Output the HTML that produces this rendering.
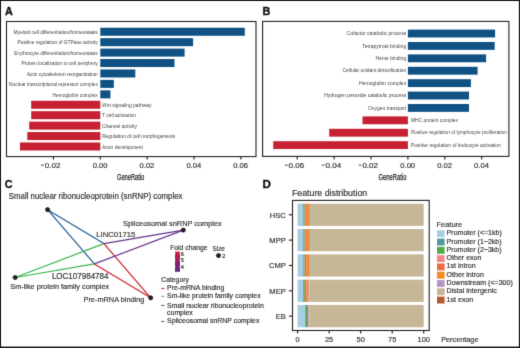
<!DOCTYPE html>
<html><head><meta charset="utf-8"><style>
html,body{margin:0;padding:0;background:#fff;}
svg{display:block;font-family:"Liberation Sans", sans-serif;will-change:transform;}

</style></head><body>
<svg width="520" height="348" viewBox="0 0 520 348" fill="#333">
<defs><filter id="bl" x="0" y="0" width="520" height="348" filterUnits="userSpaceOnUse" color-interpolation-filters="sRGB"><feConvolveMatrix order="3" kernelMatrix="0.0114 0.084 0.0114 0.084 0.618 0.084 0.0114 0.084 0.0114" divisor="1" edgeMode="duplicate"/></filter></defs>
<g filter="url(#bl)">
<rect x="0" y="0" width="520" height="348" fill="#fff"/>
<text x="5.0" y="14.8" font-size="10.8" fill="#111" font-weight="bold" stroke="#111" stroke-width="0.35">A</text>
<rect x="6.5" y="21.5" width="249.5" height="135.1" fill="none" stroke="#222" stroke-width="1.1"/>
<rect x="100.30" y="27.75" width="144.50" height="8.00" fill="#0f5283"/>
<text x="97.8" y="33.95" font-size="5.044" text-anchor="end" fill="#444" textLength="84.29" lengthAdjust="spacingAndGlyphs">Myeloid cell differentiation/homeostasis</text>
<rect x="100.30" y="38.18" width="92.80" height="8.00" fill="#0f5283"/>
<text x="97.8" y="44.38" font-size="5.044" text-anchor="end" fill="#444" textLength="80.33" lengthAdjust="spacingAndGlyphs">Positive regulation of GTPase activity</text>
<rect x="100.30" y="48.61" width="84.30" height="8.00" fill="#0f5283"/>
<text x="97.8" y="54.81" font-size="5.044" text-anchor="end" fill="#444" textLength="83.48" lengthAdjust="spacingAndGlyphs">Erythrocyte differentiation/homeostasis</text>
<rect x="100.30" y="59.04" width="74.20" height="8.00" fill="#0f5283"/>
<text x="97.8" y="65.24" font-size="5.044" text-anchor="end" fill="#444" textLength="76.29" lengthAdjust="spacingAndGlyphs">Protein localization to cell periphery</text>
<rect x="100.30" y="69.47" width="35.00" height="8.00" fill="#0f5283"/>
<text x="97.8" y="75.67" font-size="5.044" text-anchor="end" fill="#444" textLength="71.17" lengthAdjust="spacingAndGlyphs">Actin cytoskeleton reorganization</text>
<rect x="100.30" y="79.90" width="13.50" height="8.00" fill="#0f5283"/>
<text x="97.8" y="86.10000000000001" font-size="5.044" text-anchor="end" fill="#444" textLength="88.7" lengthAdjust="spacingAndGlyphs">Nuclear transcriptional repressor complex</text>
<rect x="100.30" y="90.33" width="10.10" height="8.00" fill="#0f5283"/>
<text x="97.8" y="96.53" font-size="5.044" text-anchor="end" fill="#444" textLength="45.29" lengthAdjust="spacingAndGlyphs">Hemoglobin complex</text>
<rect x="31.20" y="100.76" width="69.10" height="8.00" fill="#c72032"/>
<text x="102.0" y="106.96" font-size="5.148" fill="#444" textLength="49.53" lengthAdjust="spacingAndGlyphs">Wnt signaling pathway</text>
<rect x="31.20" y="111.19" width="69.10" height="8.00" fill="#c72032"/>
<text x="102.0" y="117.39" font-size="5.148" fill="#444" textLength="34.02" lengthAdjust="spacingAndGlyphs">T cell activation</text>
<rect x="29.20" y="121.62" width="71.10" height="8.00" fill="#c72032"/>
<text x="102.0" y="127.82000000000001" font-size="5.148" fill="#444" textLength="34.94" lengthAdjust="spacingAndGlyphs">Channel activity</text>
<rect x="27.30" y="132.05" width="73.00" height="8.00" fill="#c72032"/>
<text x="102.0" y="138.25" font-size="5.148" fill="#444" textLength="73.19" lengthAdjust="spacingAndGlyphs">Regulation of cell morphogenesis</text>
<rect x="20.00" y="142.48" width="80.30" height="8.00" fill="#c72032"/>
<text x="102.0" y="148.67999999999998" font-size="5.148" fill="#444" textLength="41.0" lengthAdjust="spacingAndGlyphs">Axon development</text>
<line x1="53.449999999999996" y1="156.6" x2="53.449999999999996" y2="159.6" stroke="#222" stroke-width="1.15"/>
<text x="60.45" y="167.9" font-size="7.904" text-anchor="end" textLength="15.6" lengthAdjust="spacingAndGlyphs" stroke="#333" stroke-width="0.18">0.02</text>
<rect x="41.00" y="164.70" width="3.00" height="0.85" fill="#333"/>
<line x1="100.3" y1="156.6" x2="100.3" y2="159.6" stroke="#222" stroke-width="1.15"/>
<text x="100.1" y="167.9" font-size="7.904" text-anchor="middle" textLength="14.79" lengthAdjust="spacingAndGlyphs" stroke="#333" stroke-width="0.18">0.00</text>
<line x1="147.15" y1="156.6" x2="147.15" y2="159.6" stroke="#222" stroke-width="1.15"/>
<text x="146.95" y="167.9" font-size="7.904" text-anchor="middle" textLength="14.79" lengthAdjust="spacingAndGlyphs" stroke="#333" stroke-width="0.18">0.02</text>
<line x1="194.0" y1="156.6" x2="194.0" y2="159.6" stroke="#222" stroke-width="1.15"/>
<text x="193.8" y="167.9" font-size="7.904" text-anchor="middle" textLength="14.79" lengthAdjust="spacingAndGlyphs" stroke="#333" stroke-width="0.18">0.04</text>
<line x1="240.85000000000002" y1="156.6" x2="240.85000000000002" y2="159.6" stroke="#222" stroke-width="1.15"/>
<text x="240.65" y="167.9" font-size="7.904" text-anchor="middle" textLength="14.79" lengthAdjust="spacingAndGlyphs" stroke="#333" stroke-width="0.18">0.06</text>
<text x="130.6" y="179.6" font-size="9.152" text-anchor="middle" fill="#222" textLength="27.2" lengthAdjust="spacingAndGlyphs" stroke="#222" stroke-width="0.25">GeneRatio</text>
<text x="262.5" y="14.8" font-size="10.8" fill="#111" font-weight="bold" stroke="#111" stroke-width="0.35">B</text>
<rect x="262.6" y="21.4" width="246.29999999999995" height="135.0" fill="none" stroke="#222" stroke-width="1.1"/>
<rect x="407.90" y="29.60" width="87.20" height="7.85" fill="#0f5283"/>
<text x="406.2" y="35.225" font-size="5.148" text-anchor="end" fill="#444" textLength="59.7" lengthAdjust="spacingAndGlyphs">Cofactor catabolic process</text>
<rect x="407.90" y="42.00" width="86.80" height="7.85" fill="#0f5283"/>
<text x="406.2" y="47.625" font-size="5.148" text-anchor="end" fill="#444" textLength="43.9" lengthAdjust="spacingAndGlyphs">Tetrapyrrole binding</text>
<rect x="407.90" y="54.40" width="78.20" height="7.85" fill="#0f5283"/>
<text x="406.2" y="60.025000000000006" font-size="5.148" text-anchor="end" fill="#444" textLength="30.6" lengthAdjust="spacingAndGlyphs">Heme binding</text>
<rect x="407.90" y="66.80" width="69.70" height="7.85" fill="#0f5283"/>
<text x="406.2" y="72.42500000000001" font-size="5.148" text-anchor="end" fill="#444" textLength="63.7" lengthAdjust="spacingAndGlyphs">Cellular oxidant detoxification</text>
<rect x="407.90" y="79.20" width="63.00" height="7.85" fill="#0f5283"/>
<text x="406.2" y="84.825" font-size="5.148" text-anchor="end" fill="#444" textLength="47.1" lengthAdjust="spacingAndGlyphs">Hemoglobin complex</text>
<rect x="407.90" y="91.60" width="61.10" height="7.85" fill="#0f5283"/>
<text x="406.2" y="97.225" font-size="5.148" text-anchor="end" fill="#444" textLength="82.0" lengthAdjust="spacingAndGlyphs">Hydrogen peroxide catabolic process</text>
<rect x="407.90" y="104.00" width="61.10" height="7.85" fill="#0f5283"/>
<text x="406.2" y="109.625" font-size="5.148" text-anchor="end" fill="#444" textLength="38.1" lengthAdjust="spacingAndGlyphs">Oxygen transport</text>
<rect x="362.50" y="116.40" width="45.40" height="7.85" fill="#c72032"/>
<text x="410.9" y="121.925" font-size="5.096" fill="#444" textLength="47.11" lengthAdjust="spacingAndGlyphs">MHC protein complex</text>
<rect x="329.20" y="128.80" width="78.70" height="7.85" fill="#c72032"/>
<text x="410.9" y="134.32500000000002" font-size="5.096" fill="#444" textLength="95.9" lengthAdjust="spacingAndGlyphs">Positive regulation of lymphocyte proliferation</text>
<rect x="273.20" y="141.20" width="134.70" height="7.85" fill="#c72032"/>
<text x="410.9" y="146.72500000000002" font-size="5.096" fill="#444" textLength="89.9" lengthAdjust="spacingAndGlyphs">Positive regulation of leukocyte activation</text>
<line x1="297.2" y1="156.4" x2="297.2" y2="159.4" stroke="#222" stroke-width="1.15"/>
<text x="304.2" y="167.9" font-size="7.904" text-anchor="end" textLength="15.6" lengthAdjust="spacingAndGlyphs" stroke="#333" stroke-width="0.18">0.06</text>
<rect x="284.75" y="164.70" width="3.00" height="0.85" fill="#333"/>
<line x1="334.09999999999997" y1="156.4" x2="334.09999999999997" y2="159.4" stroke="#222" stroke-width="1.15"/>
<text x="341.1" y="167.9" font-size="7.904" text-anchor="end" textLength="15.6" lengthAdjust="spacingAndGlyphs" stroke="#333" stroke-width="0.18">0.04</text>
<rect x="321.65" y="164.70" width="3.00" height="0.85" fill="#333"/>
<line x1="371.0" y1="156.4" x2="371.0" y2="159.4" stroke="#222" stroke-width="1.15"/>
<text x="378.0" y="167.9" font-size="7.904" text-anchor="end" textLength="15.6" lengthAdjust="spacingAndGlyphs" stroke="#333" stroke-width="0.18">0.02</text>
<rect x="358.55" y="164.70" width="3.00" height="0.85" fill="#333"/>
<line x1="407.9" y1="156.4" x2="407.9" y2="159.4" stroke="#222" stroke-width="1.15"/>
<text x="407.7" y="167.9" font-size="7.904" text-anchor="middle" textLength="14.79" lengthAdjust="spacingAndGlyphs" stroke="#333" stroke-width="0.18">0.00</text>
<line x1="444.79999999999995" y1="156.4" x2="444.79999999999995" y2="159.4" stroke="#222" stroke-width="1.15"/>
<text x="444.6" y="167.9" font-size="7.904" text-anchor="middle" textLength="14.79" lengthAdjust="spacingAndGlyphs" stroke="#333" stroke-width="0.18">0.02</text>
<line x1="481.7" y1="156.4" x2="481.7" y2="159.4" stroke="#222" stroke-width="1.15"/>
<text x="481.5" y="167.9" font-size="7.904" text-anchor="middle" textLength="14.79" lengthAdjust="spacingAndGlyphs" stroke="#333" stroke-width="0.18">0.04</text>
<text x="392.5" y="179.6" font-size="9.152" text-anchor="middle" fill="#222" textLength="27.8" lengthAdjust="spacingAndGlyphs" stroke="#222" stroke-width="0.25">GeneRatio</text>
<text x="4.8" y="188.2" font-size="10.8" fill="#111" font-weight="bold" stroke="#111" stroke-width="0.35">C</text>
<line x1="47.6" y1="209.7" x2="103.9" y2="243.6" stroke="#1d5c96" stroke-width="1.2"/>
<line x1="47.6" y1="209.7" x2="94.4" y2="263.9" stroke="#1d5c96" stroke-width="1.2"/>
<line x1="15.1" y1="277.5" x2="103.9" y2="243.6" stroke="#3cb44b" stroke-width="1.2"/>
<line x1="15.1" y1="277.5" x2="94.4" y2="263.9" stroke="#3cb44b" stroke-width="1.2"/>
<line x1="103.9" y1="243.6" x2="150.7" y2="297.85" stroke="#d0202f" stroke-width="1.2"/>
<line x1="94.4" y1="263.9" x2="150.7" y2="297.85" stroke="#d0202f" stroke-width="1.2"/>
<line x1="103.9" y1="243.6" x2="183.3" y2="230.1" stroke="#6a3591" stroke-width="1.2"/>
<line x1="94.4" y1="263.9" x2="183.3" y2="230.1" stroke="#6a3591" stroke-width="1.2"/>
<circle cx="47.6" cy="209.7" r="2.1" fill="#222" stroke="#000" stroke-width="0.6"/>
<circle cx="15.1" cy="277.5" r="2.1" fill="#222" stroke="#000" stroke-width="0.6"/>
<circle cx="183.3" cy="230.1" r="2.1" fill="#222" stroke="#000" stroke-width="0.6"/>
<circle cx="150.7" cy="297.85" r="2.1" fill="#222" stroke="#000" stroke-width="0.6"/>
<text x="8.8" y="199.2" font-size="8.164" textLength="173.7" lengthAdjust="spacingAndGlyphs" stroke="#333" stroke-width="0.18">Small nuclear ribonucleoprotein (snRNP) complex</text>
<text x="123.1" y="226.1" font-size="7.696" textLength="98.7" lengthAdjust="spacingAndGlyphs" stroke="#333" stroke-width="0.18">Spliceosomal snRNP complex</text>
<text x="96.2" y="236.5" font-size="8.008" textLength="39.2" lengthAdjust="spacingAndGlyphs" stroke="#333" stroke-width="0.18">LINC01715</text>
<text x="51.9" y="278.7" font-size="8.216" textLength="56.6" lengthAdjust="spacingAndGlyphs" stroke="#333" stroke-width="0.18">LOC107984784</text>
<text x="10.3" y="289.3" font-size="7.644" textLength="98.9" lengthAdjust="spacingAndGlyphs" stroke="#333" stroke-width="0.18">Sm-like protein family complex</text>
<text x="83.5" y="301.8" font-size="7.904" textLength="60.9" lengthAdjust="spacingAndGlyphs" stroke="#333" stroke-width="0.18">Pre-mRNA binding</text>
<text x="170.2" y="249.8" font-size="7.228" textLength="37.3" lengthAdjust="spacingAndGlyphs" stroke="#333" stroke-width="0.18">Fold change</text>
<text x="212.5" y="250.6" font-size="6.968" textLength="12.4" lengthAdjust="spacingAndGlyphs" stroke="#333" stroke-width="0.18">Size</text>
<defs><linearGradient id="fc" x1="0" y1="0" x2="0" y2="1"><stop offset="0" stop-color="#d41b3b"/><stop offset="0.5" stop-color="#901f62"/><stop offset="1" stop-color="#5b2d8e"/></linearGradient></defs>
<rect x="175" y="251.6" width="5" height="20.2" fill="url(#fc)"/>
<line x1="175" y1="253.6" x2="176" y2="253.6" stroke="#fff" stroke-width="0.5"/>
<line x1="179" y1="253.6" x2="180" y2="253.6" stroke="#fff" stroke-width="0.5"/>
<text x="180.8" y="255.54999999999998" font-size="5.72" fill="#2a2a2a" textLength="3.06" lengthAdjust="spacingAndGlyphs" stroke="#2a2a2a" stroke-width="0.2">6</text>
<line x1="175" y1="260.4" x2="176" y2="260.4" stroke="#fff" stroke-width="0.5"/>
<line x1="179" y1="260.4" x2="180" y2="260.4" stroke="#fff" stroke-width="0.5"/>
<text x="180.8" y="262.34999999999997" font-size="5.72" fill="#2a2a2a" textLength="3.06" lengthAdjust="spacingAndGlyphs" stroke="#2a2a2a" stroke-width="0.2">5</text>
<line x1="175" y1="267.2" x2="176" y2="267.2" stroke="#fff" stroke-width="0.5"/>
<line x1="179" y1="267.2" x2="180" y2="267.2" stroke="#fff" stroke-width="0.5"/>
<text x="180.8" y="269.15" font-size="5.72" fill="#2a2a2a" textLength="3.06" lengthAdjust="spacingAndGlyphs" stroke="#2a2a2a" stroke-width="0.2">4</text>
<circle cx="218.5" cy="255.6" r="2.1" fill="#222" stroke="#000" stroke-width="0.6"/>
<text x="222.3" y="257.6" font-size="5.824" fill="#2a2a2a" textLength="3.11" lengthAdjust="spacingAndGlyphs" stroke="#2a2a2a" stroke-width="0.2">2</text>
<text x="161.3" y="281.8" font-size="7.176" textLength="27.5" lengthAdjust="spacingAndGlyphs" stroke="#333" stroke-width="0.18">Category</text>
<line x1="161.3" y1="288.4" x2="164.4" y2="288.4" stroke="#d0202f" stroke-width="1"/>
<text x="167.1" y="289.6" font-size="7.176" textLength="57.14" lengthAdjust="spacingAndGlyphs" stroke="#333" stroke-width="0.18">Pre-mRNA binding</text>
<line x1="161.3" y1="296.3" x2="164.4" y2="296.3" stroke="#3cb44b" stroke-width="1"/>
<text x="167.1" y="297.9" font-size="7.176" textLength="93.56" lengthAdjust="spacingAndGlyphs" stroke="#333" stroke-width="0.18">Sm-like protein family complex</text>
<line x1="161.3" y1="305.4" x2="164.4" y2="305.4" stroke="#1d5c96" stroke-width="1"/>
<text x="167.1" y="307.7" font-size="7.176" textLength="96.65" lengthAdjust="spacingAndGlyphs" stroke="#333" stroke-width="0.18">Small nuclear ribonucleoprotein</text>
<line x1="161.3" y1="321.4" x2="164.4" y2="321.4" stroke="#6a3591" stroke-width="1"/>
<text x="167.1" y="323.0" font-size="7.176" textLength="92.29" lengthAdjust="spacingAndGlyphs" stroke="#333" stroke-width="0.18">Spliceosomal snRNP complex</text>
<text x="167.1" y="315.3" font-size="7.176" textLength="25.69" lengthAdjust="spacingAndGlyphs" stroke="#333" stroke-width="0.18">complex</text>
<text x="262.5" y="187.9" font-size="10.8" fill="#111" textLength="8.4" lengthAdjust="spacingAndGlyphs" font-weight="bold" stroke="#111" stroke-width="0.35">D</text>
<text x="291.9" y="195.5" font-size="8.528" textLength="75.3" lengthAdjust="spacingAndGlyphs" stroke="#333" stroke-width="0.18">Feature distribution</text>
<rect x="297.60" y="203.70" width="5.20" height="22.20" fill="#a6cee3"/>
<rect x="302.80" y="203.70" width="0.70" height="22.20" fill="#4e9ca0"/>
<rect x="303.50" y="203.70" width="1.20" height="22.20" fill="#50ac4a"/>
<rect x="304.70" y="203.70" width="0.40" height="22.20" fill="#f08888"/>
<rect x="305.10" y="203.70" width="1.60" height="22.20" fill="#ec6a48"/>
<rect x="306.70" y="203.70" width="2.40" height="22.20" fill="#f28924"/>
<rect x="309.10" y="203.70" width="0.90" height="22.20" fill="#b197c6"/>
<rect x="310.00" y="203.70" width="113.70" height="22.20" fill="#c6b797"/>
<rect x="297.60" y="229.03" width="5.30" height="22.20" fill="#a6cee3"/>
<rect x="302.90" y="229.03" width="0.80" height="22.20" fill="#4e9ca0"/>
<rect x="303.70" y="229.03" width="1.00" height="22.20" fill="#50ac4a"/>
<rect x="304.70" y="229.03" width="0.40" height="22.20" fill="#f08888"/>
<rect x="305.10" y="229.03" width="1.60" height="22.20" fill="#ec6a48"/>
<rect x="306.70" y="229.03" width="2.40" height="22.20" fill="#f28924"/>
<rect x="309.10" y="229.03" width="0.90" height="22.20" fill="#b197c6"/>
<rect x="310.00" y="229.03" width="113.70" height="22.20" fill="#c6b797"/>
<rect x="297.60" y="254.36" width="5.30" height="22.20" fill="#a6cee3"/>
<rect x="302.90" y="254.36" width="0.60" height="22.20" fill="#4e9ca0"/>
<rect x="303.50" y="254.36" width="1.20" height="22.20" fill="#50ac4a"/>
<rect x="304.70" y="254.36" width="0.30" height="22.20" fill="#f08888"/>
<rect x="305.00" y="254.36" width="1.60" height="22.20" fill="#ec6a48"/>
<rect x="306.60" y="254.36" width="2.40" height="22.20" fill="#f28924"/>
<rect x="309.00" y="254.36" width="0.90" height="22.20" fill="#b197c6"/>
<rect x="309.90" y="254.36" width="113.80" height="22.20" fill="#c6b797"/>
<rect x="297.60" y="279.69" width="5.50" height="22.20" fill="#a6cee3"/>
<rect x="303.10" y="279.69" width="0.80" height="22.20" fill="#4e9ca0"/>
<rect x="303.90" y="279.69" width="0.90" height="22.20" fill="#50ac4a"/>
<rect x="304.80" y="279.69" width="1.50" height="22.20" fill="#ec6a48"/>
<rect x="306.30" y="279.69" width="2.30" height="22.20" fill="#f28924"/>
<rect x="308.60" y="279.69" width="0.90" height="22.20" fill="#b197c6"/>
<rect x="309.50" y="279.69" width="114.20" height="22.20" fill="#c6b797"/>
<rect x="297.60" y="305.02" width="7.60" height="22.20" fill="#a6cee3"/>
<rect x="305.20" y="305.02" width="0.70" height="22.20" fill="#4e9ca0"/>
<rect x="305.90" y="305.02" width="1.10" height="22.20" fill="#50ac4a"/>
<rect x="307.00" y="305.02" width="1.30" height="22.20" fill="#ec6a48"/>
<rect x="308.30" y="305.02" width="1.00" height="22.20" fill="#b197c6"/>
<rect x="309.30" y="305.02" width="114.40" height="22.20" fill="#c6b797"/>
<rect x="292.5" y="200.4" width="136.7" height="130.1" fill="none" stroke="#222" stroke-width="1.1"/>
<line x1="288.9" y1="214.79999999999998" x2="292.5" y2="214.79999999999998" stroke="#222" stroke-width="1.15"/>
<text x="285.8" y="217.74999999999997" font-size="7.904" text-anchor="end" textLength="16.05" lengthAdjust="spacingAndGlyphs" stroke="#333" stroke-width="0.18">HSC</text>
<line x1="288.9" y1="240.12999999999997" x2="292.5" y2="240.12999999999997" stroke="#222" stroke-width="1.15"/>
<text x="285.8" y="243.07999999999996" font-size="7.904" text-anchor="end" textLength="16.47" lengthAdjust="spacingAndGlyphs" stroke="#333" stroke-width="0.18">MPP</text>
<line x1="288.9" y1="265.46" x2="292.5" y2="265.46" stroke="#222" stroke-width="1.15"/>
<text x="285.8" y="268.40999999999997" font-size="7.904" text-anchor="end" textLength="16.89" lengthAdjust="spacingAndGlyphs" stroke="#333" stroke-width="0.18">CMP</text>
<line x1="288.9" y1="290.79" x2="292.5" y2="290.79" stroke="#222" stroke-width="1.15"/>
<text x="285.8" y="293.74" font-size="7.904" text-anchor="end" textLength="16.47" lengthAdjust="spacingAndGlyphs" stroke="#333" stroke-width="0.18">MEP</text>
<line x1="288.9" y1="316.12" x2="292.5" y2="316.12" stroke="#222" stroke-width="1.15"/>
<text x="285.8" y="319.07" font-size="7.904" text-anchor="end" textLength="10.14" lengthAdjust="spacingAndGlyphs" stroke="#333" stroke-width="0.18">EB</text>
<line x1="297.6" y1="330.5" x2="297.6" y2="333.5" stroke="#222" stroke-width="1.15"/>
<text x="297.6" y="341.9" font-size="7.696" text-anchor="middle" textLength="4.12" lengthAdjust="spacingAndGlyphs" stroke="#333" stroke-width="0.18">0</text>
<line x1="329.125" y1="330.5" x2="329.125" y2="333.5" stroke="#222" stroke-width="1.15"/>
<text x="329.12" y="341.9" font-size="7.696" text-anchor="middle" textLength="8.23" lengthAdjust="spacingAndGlyphs" stroke="#333" stroke-width="0.18">25</text>
<line x1="360.65" y1="330.5" x2="360.65" y2="333.5" stroke="#222" stroke-width="1.15"/>
<text x="360.65" y="341.9" font-size="7.696" text-anchor="middle" textLength="8.23" lengthAdjust="spacingAndGlyphs" stroke="#333" stroke-width="0.18">50</text>
<line x1="392.175" y1="330.5" x2="392.175" y2="333.5" stroke="#222" stroke-width="1.15"/>
<text x="392.18" y="341.9" font-size="7.696" text-anchor="middle" textLength="8.23" lengthAdjust="spacingAndGlyphs" stroke="#333" stroke-width="0.18">75</text>
<line x1="423.7" y1="330.5" x2="423.7" y2="333.5" stroke="#222" stroke-width="1.15"/>
<text x="423.7" y="341.9" font-size="7.696" text-anchor="middle" textLength="12.35" lengthAdjust="spacingAndGlyphs" stroke="#333" stroke-width="0.18">100</text>
<text x="441.2" y="341.8" font-size="7.592" textLength="37.3" lengthAdjust="spacingAndGlyphs" stroke="#333" stroke-width="0.18">Percentage</text>
<text x="436.6" y="226.5" font-size="7.696" textLength="25.5" lengthAdjust="spacingAndGlyphs" stroke="#333" stroke-width="0.18">Feature</text>
<rect x="437.00" y="230.30" width="7.60" height="6.90" fill="#a6cee3"/>
<text x="446.6" y="235.25" font-size="7.332" textLength="55.25" lengthAdjust="spacingAndGlyphs" stroke="#333" stroke-width="0.18">Promoter (&lt;=1kb)</text>
<rect x="437.00" y="238.59" width="7.60" height="6.90" fill="#4e9ca0"/>
<text x="446.6" y="243.54" font-size="7.332" textLength="55.05" lengthAdjust="spacingAndGlyphs" stroke="#333" stroke-width="0.18">Promoter (1−2kb)</text>
<rect x="437.00" y="246.88" width="7.60" height="6.90" fill="#50ac4a"/>
<text x="446.6" y="251.82999999999998" font-size="7.332" textLength="55.05" lengthAdjust="spacingAndGlyphs" stroke="#333" stroke-width="0.18">Promoter (2−3kb)</text>
<rect x="437.00" y="255.17" width="7.60" height="6.90" fill="#f08888"/>
<text x="446.6" y="260.12" font-size="7.332" textLength="34.88" lengthAdjust="spacingAndGlyphs" stroke="#333" stroke-width="0.18">Other exon</text>
<rect x="437.00" y="263.46" width="7.60" height="6.90" fill="#ec6a48"/>
<text x="446.6" y="268.41" font-size="7.332" textLength="29.0" lengthAdjust="spacingAndGlyphs" stroke="#333" stroke-width="0.18">1st intron</text>
<rect x="437.00" y="271.75" width="7.60" height="6.90" fill="#f28924"/>
<text x="446.6" y="276.7" font-size="7.332" textLength="37.23" lengthAdjust="spacingAndGlyphs" stroke="#333" stroke-width="0.18">Other intron</text>
<rect x="437.00" y="280.04" width="7.60" height="6.90" fill="#b197c6"/>
<text x="446.6" y="284.99" font-size="7.332" textLength="66.22" lengthAdjust="spacingAndGlyphs" stroke="#333" stroke-width="0.18">Downstream (&lt;=300)</text>
<rect x="437.00" y="288.33" width="7.60" height="6.90" fill="#c6b797"/>
<text x="446.6" y="293.28" font-size="7.332" textLength="50.16" lengthAdjust="spacingAndGlyphs" stroke="#333" stroke-width="0.18">Distal intergenic</text>
<rect x="437.00" y="296.62" width="7.60" height="6.90" fill="#b45a2d"/>
<text x="446.6" y="301.57" font-size="7.332" textLength="26.65" lengthAdjust="spacingAndGlyphs" stroke="#333" stroke-width="0.18">1st exon</text>
<rect x="0" y="0" width="520" height="1" fill="#111"/>
<rect x="0" y="0" width="1" height="348" fill="#111"/>
<rect x="518.9" y="0" width="1.1" height="348" fill="#111"/>
<rect x="0" y="346.6" width="520" height="1.4" fill="#111"/>
</g>
</svg>
</body></html>
